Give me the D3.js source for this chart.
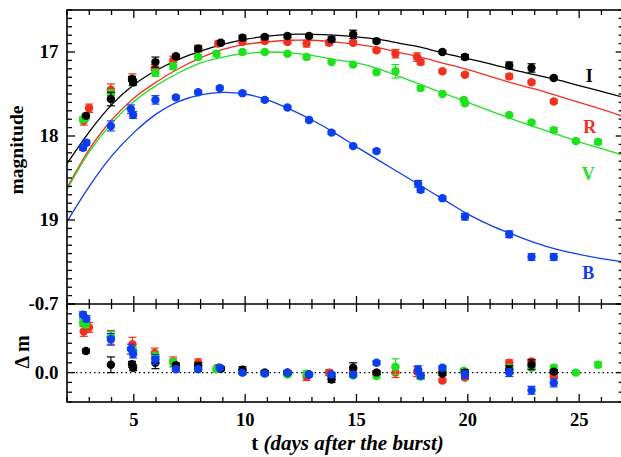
<!DOCTYPE html>
<html><head><meta charset="utf-8">
<script src="https://cdn.jsdelivr.net/npm/d3@7"></script>
<style>
body{margin:0;background:#fff}
svg{display:block}
text{font-family:"Liberation Serif","Times New Roman",serif;font-weight:bold;fill:#000}
</style>
</head><body>
<svg id="c" width="621" height="457"></svg>
<script>
// ---------- data ----------
const bandNames = ["R", "V", "I", "B"];           // draw order
const bandColors = {I: "#000000", R: "#f2301e", V: "#1fe21f", B: "#0b3ef0"};

// Band I (black)
const tI   = [2.85, 3.97, 4.92, 4.97, 5.97, 6.89, 7.89, 8.91, 9.88, 10.88, 11.9, 12.87, 13.88, 14.85, 15.9, 18.86, 19.87, 21.86, 22.86, 23.86];
const magI = [17.76, 17.56, 17.32, 17.36, 17.12, 17.05, 16.96, 16.89, 16.83, 16.82, 16.81, 16.81, 16.85, 16.79, 16.87, 17.00, 17.06, 17.16, 17.19, 17.31];
const errI = [0.02, 0.08, 0.03, 0.03, 0.06, 0.02, 0.03, 0.02, 0.03, 0.02, 0.02, 0.02, 0.03, 0.05, 0.02, 0.02, 0.03, 0.04, 0.05, 0.02];
const resI = [-0.22, -0.08, -0.085, -0.05, -0.10, -0.075, -0.07, -0.04, -0.03, 0.0, 0.0, 0.02, 0.07, -0.05, 0.0, 0.01, 0.0, -0.03, -0.08, -0.01];

// Band R (red)
const tR   = [2.75, 2.99, 3.97, 4.94, 5.94, 6.77, 7.89, 8.79, 9.88, 10.88, 11.9, 12.76, 13.77, 14.85, 15.9, 16.75, 17.72, 17.88, 18.86, 19.87, 21.86, 22.86, 23.86];
const magR = [17.82, 17.67, 17.45, 17.33, 17.20, 17.10, 16.96, 16.90, 16.88, 16.87, 16.88, 16.90, 16.89, 16.89, 16.98, 17.02, 17.06, 17.12, 17.23, 17.27, 17.29, 17.36, 17.59];
const errR = [0.05, 0.05, 0.07, 0.07, 0.05, 0.05, 0.04, 0.03, 0.02, 0.02, 0.02, 0.04, 0.03, 0.02, 0.02, 0.05, 0.05, 0.03, 0.02, 0.02, 0.03, 0.02, 0.02];
const resR = [-0.42, -0.46, -0.36, -0.29, -0.20, -0.11, -0.10, -0.05, -0.01, 0.0, 0.0, 0.04, 0.0, -0.03, 0.0, 0.0, -0.01, 0.03, 0.08, 0.05, -0.10, -0.115, 0.04];

// Band V (green)
const tV   = [2.72, 2.84, 3.97, 4.97, 5.97, 6.77, 7.89, 8.71, 9.88, 10.88, 11.9, 12.76, 13.88, 14.85, 15.9, 16.75, 17.88, 18.86, 19.82, 19.87, 21.86, 22.86, 23.86, 24.85, 25.85];
const magV = [17.80, 17.78, 17.50, 17.36, 17.25, 17.17, 17.06, 17.02, 17.00, 17.00, 17.02, 17.06, 17.12, 17.15, 17.24, 17.23, 17.43, 17.50, 17.57, 17.61, 17.75, 17.84, 17.93, 18.06, 18.07];
const errV = [0.03, 0.03, 0.05, 0.04, 0.04, 0.04, 0.03, 0.03, 0.02, 0.02, 0.02, 0.03, 0.02, 0.02, 0.02, 0.08, 0.03, 0.02, 0.02, 0.02, 0.02, 0.02, 0.03, 0.02, 0.03];
const resV = [-0.51, -0.49, -0.37, -0.22, -0.17, -0.10, -0.07, -0.035, 0.0, 0.0, 0.02, 0.01, 0.03, 0.03, 0.035, -0.06, 0.04, -0.02, -0.02, 0.01, -0.05, -0.05, -0.05, 0.0, -0.08];

// Band B (blue)
const tB   = [2.72, 2.87, 3.97, 4.87, 4.97, 5.97, 6.89, 7.89, 8.86, 9.88, 10.88, 11.9, 12.87, 13.88, 14.85, 15.9, 17.77, 17.88, 18.86, 19.87, 21.86, 22.86, 23.86];
const magB = [18.14, 18.08, 17.88, 17.68, 17.75, 17.57, 17.54, 17.48, 17.43, 17.49, 17.57, 17.66, 17.81, 17.96, 18.12, 18.18, 18.57, 18.64, 18.74, 18.96, 19.17, 19.44, 19.44];
const errB = [0.03, 0.03, 0.06, 0.05, 0.04, 0.05, 0.02, 0.02, 0.02, 0.02, 0.02, 0.02, 0.02, 0.02, 0.02, 0.02, 0.04, 0.03, 0.02, 0.04, 0.04, 0.04, 0.04];
const resB = [-0.59, -0.55, -0.34, -0.24, -0.19, -0.135, -0.035, -0.035, -0.05, 0.0, 0.01, 0.0, 0.02, 0.02, 0.02, -0.10, -0.03, 0.03, -0.05, 0.02, 0.0, 0.18, 0.105];

// Model light curves sampled at these times
const modelT = [2, 3, 4, 5, 6, 7, 8, 9, 10, 11, 12, 13, 14, 15, 16, 17, 18, 19, 20, 21, 22, 23, 24, 25, 26, 27];
const modelI = [18.33, 17.95, 17.63, 17.39, 17.22, 17.09, 16.99, 16.91, 16.85, 16.81, 16.79, 16.79, 16.80, 16.82, 16.85, 16.90, 16.95, 17.02, 17.08, 17.14, 17.21, 17.27, 17.33, 17.40, 17.47, 17.54];
const modelR = [18.62, 18.16, 17.81, 17.55, 17.36, 17.20, 17.07, 16.97, 16.91, 16.88, 16.86, 16.86, 16.88, 16.91, 16.95, 17.01, 17.07, 17.14, 17.21, 17.29, 17.37, 17.44, 17.52, 17.60, 17.68, 17.77];
const modelV = [18.64, 18.19, 17.85, 17.59, 17.40, 17.25, 17.13, 17.06, 17.02, 17.00, 17.01, 17.04, 17.09, 17.13, 17.20, 17.30, 17.40, 17.50, 17.60, 17.70, 17.80, 17.89, 17.98, 18.07, 18.15, 18.23];
const modelB = [19.02, 18.60, 18.24, 17.96, 17.74, 17.59, 17.51, 17.48, 17.50, 17.57, 17.68, 17.81, 17.96, 18.13, 18.29, 18.45, 18.61, 18.77, 18.93, 19.06, 19.17, 19.27, 19.35, 19.41, 19.46, 19.50];

// Band labels inside the plot
const labelT   = {I: 25.45, R: 25.48, V: 25.41, B: 25.41};
const labelMag = {I: 17.353, R: 17.964, V: 18.524, B: 19.70};

// Axis ticks
const xTickLabels = [5, 10, 15, 20, 25];
const yTopTickLabels = [17, 18, 19];
const yBotTickLabels = [-0.7, 0.0];

// ---------- assemble ----------
const bands = {
  I: {t: tI, mag: magI, err: errI, res: resI, model: modelI},
  R: {t: tR, mag: magR, err: errR, res: resR, model: modelR},
  V: {t: tV, mag: magV, err: errV, res: resV, model: modelV},
  B: {t: tB, mag: magB, err: errB, res: resB, model: modelB}
};

const L = 67, Rt = 623.7, top1 = 10, bot1 = 304, bot2 = 402;
const x = d3.scaleLinear().domain([2, 27]).range([L, Rt]);
const yT = d3.scaleLinear().domain([16.5, 20]).range([top1, bot1]);
const yB = d3.scaleLinear().domain([-0.7, 0.3]).range([bot1, bot2]);

const svg = d3.select("#c");
const defs = svg.append("defs");
defs.append("clipPath").attr("id", "clipT").append("rect")
  .attr("x", L).attr("y", top1).attr("width", Rt - L).attr("height", bot1 - top1);
defs.append("clipPath").attr("id", "clipB").append("rect")
  .attr("x", L).attr("y", bot1).attr("width", Rt - L).attr("height", bot2 - bot1);

// model curves
const gT = svg.append("g").attr("clip-path", "url(#clipT)");
["I", "R", "V", "B"].forEach(k => {
  const line = d3.line().x((d, i) => x(modelT[i])).y(d => yT(d)).curve(d3.curveCatmullRom);
  gT.append("path").attr("d", line(bands[k].model))
    .attr("fill", "none").attr("stroke", bandColors[k]).attr("stroke-width", 1.3);
});

// zero line in residual panel
const gB = svg.append("g").attr("clip-path", "url(#clipB)");
gB.append("line").attr("x1", L).attr("x2", Rt).attr("y1", yB(0)).attr("y2", yB(0))
  .attr("stroke", "#000").attr("stroke-width", 1.4).attr("stroke-dasharray", "1.5,3");

function drawPoints(g, yScale, key, valKey) {
  const b = bands[key], col = bandColors[key];
  const data = b.t.map((t, i) => ({t, v: b[valKey][i], e: b.err[i]}));
  const grp = g.append("g");
  const eb = grp.selectAll("g.eb").data(data).join("g").attr("stroke", col).attr("stroke-width", 1.2);
  eb.append("line").attr("x1", d => x(d.t)).attr("x2", d => x(d.t))
    .attr("y1", d => yScale(d.v - d.e)).attr("y2", d => yScale(d.v + d.e));
  eb.append("line").attr("x1", d => x(d.t) - 4).attr("x2", d => x(d.t) + 4)
    .attr("y1", d => yScale(d.v - d.e)).attr("y2", d => yScale(d.v - d.e));
  eb.append("line").attr("x1", d => x(d.t) - 4).attr("x2", d => x(d.t) + 4)
    .attr("y1", d => yScale(d.v + d.e)).attr("y2", d => yScale(d.v + d.e));
  grp.selectAll("circle").data(data).join("circle")
    .attr("cx", d => x(d.t)).attr("cy", d => yScale(d.v)).attr("r", 4.2)
    .attr("fill", col);
}
bandNames.forEach(k => drawPoints(gT, yT, k, "mag"));
bandNames.forEach(k => drawPoints(gB, yB, k, "res"));

// band labels
["I", "R", "V", "B"].forEach(k => {
  svg.append("text").attr("x", x(labelT[k])).attr("y", yT(labelMag[k]))
    .attr("text-anchor", "middle").attr("font-size", 18)
    .style("fill", bandColors[k]).text(k);
});

// ---------- frame & ticks ----------
const ax = svg.append("g").attr("stroke", "#000").attr("fill", "none");
ax.append("rect").attr("x", L).attr("y", top1).attr("width", Rt - L).attr("height", bot2 - top1).attr("stroke-width", 1.6);
ax.append("line").attr("x1", L).attr("x2", Rt).attr("y1", bot1).attr("y2", bot1).attr("stroke-width", 1.6);

const xt = d3.range(2, 28);
function xTicks(yLine, dir) {
  xt.forEach(t => {
    const len = t % 5 === 0 ? 8 : 5;
    ax.append("line").attr("x1", x(t)).attr("x2", x(t)).attr("y1", yLine).attr("y2", yLine + dir * len).attr("stroke-width", 1.3);
  });
}
xTicks(top1, 1); xTicks(bot1, -1); xTicks(bot1, 1); xTicks(bot2, -1);

d3.range(0, 36).forEach(i => {
  const v = 16.5 + i * 0.1;
  const major = Math.abs(v - Math.round(v)) < 1e-6;
  const len = major ? 8 : 5;
  ax.append("line").attr("x1", L).attr("x2", L + len).attr("y1", yT(v)).attr("y2", yT(v)).attr("stroke-width", 1.3);
  ax.append("line").attr("x1", Rt).attr("x2", Rt - len).attr("y1", yT(v)).attr("y2", yT(v)).attr("stroke-width", 1.3);
});
d3.range(0, 11).forEach(i => {
  const v = -0.7 + i * 0.1;
  const major = i === 0 || i === 7;
  const len = major ? 8 : 5;
  ax.append("line").attr("x1", L).attr("x2", L + len).attr("y1", yB(v)).attr("y2", yB(v)).attr("stroke-width", 1.3);
  ax.append("line").attr("x1", Rt).attr("x2", Rt - len).attr("y1", yB(v)).attr("y2", yB(v)).attr("stroke-width", 1.3);
});

// tick labels
svg.selectAll("text.xl").data(xTickLabels).join("text").attr("class", "xl")
  .attr("x", d => x(d)).attr("y", 426).attr("text-anchor", "middle").attr("font-size", 18.5).text(d => d);
svg.selectAll("text.ylt").data(yTopTickLabels).join("text").attr("class", "ylt")
  .attr("x", 58.5).attr("y", d => yT(d) + 6.3).attr("text-anchor", "end").attr("font-size", 19).text(d => d);
svg.selectAll("text.ylb").data(yBotTickLabels).join("text").attr("class", "ylb")
  .attr("x", 58.5).attr("y", d => yB(d) + 6.3).attr("text-anchor", "end").attr("font-size", 19).text(d => d.toFixed(1));

// axis titles
svg.append("text").attr("transform", "translate(22.5,150) rotate(-90)")
  .attr("text-anchor", "middle").attr("font-size", 19.5).text("magnitude");
svg.append("text").attr("transform", "translate(29,352) rotate(-90)")
  .attr("text-anchor", "middle").attr("font-size", 20).text("Δ m");
const xt2 = svg.append("text").attr("x", 347.5).attr("y", 450).attr("text-anchor", "middle").attr("font-size", 21);
xt2.append("tspan").text("t ");
xt2.append("tspan").attr("font-style", "italic").text("(days after the burst)");
</script>
</body></html>
